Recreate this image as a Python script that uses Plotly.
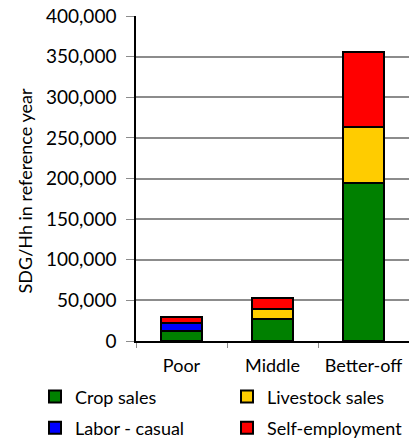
import plotly.graph_objects as go

# wealth groups and income by source (SDG per household)
groups = ["Poor", "Middle", "Better-off"]
crop_sales = [12500, 27500, 195000]
livestock_sales = [0, 12500, 68500]
labor_casual = [9500, 0, 0]
self_employment = [8000, 13500, 92500]

# name, values, colour, which legend row
series = [
    ("Crop sales", crop_sales, "#008000", "legend"),
    ("Livestock sales", livestock_sales, "#FFCC00", "legend"),
    ("Labor - casual", labor_casual, "#0000FF", "legend2"),
    ("Self-employment", self_employment, "#FF0000", "legend2"),
]

fig = go.Figure()
for name, vals, col, leg in series:
    fig.add_trace(go.Bar(
        x=groups, y=vals, name=name, legend=leg,
        marker=dict(color=col, line=dict(color="black", width=2)),
        width=0.46,
    ))

font = "Lato, 'Open Sans', sans-serif"
leg_style = dict(
    orientation="h", xanchor="left", yanchor="middle",
    entrywidth=147, traceorder="normal", font=dict(size=18),
    itemwidth=30, bgcolor="rgba(0,0,0,0)",
)
fig.update_layout(
    barmode="stack",
    width=409, height=439,
    margin=dict(l=136, r=0, t=16, b=98, autoexpand=False),
    paper_bgcolor="white", plot_bgcolor="white",
    font=dict(family=font, size=18, color="black"),
    showlegend=True,
    legend=dict(x=-0.37, y=-0.172, **leg_style),
    legend2=dict(x=-0.37, y=-0.268, **leg_style),
    xaxis=dict(
        showline=True, linecolor="black", linewidth=1.5,
        ticks="outside", tickson="boundaries", ticklen=5, tickcolor="#8c8c8c",
        tickfont=dict(size=18), tickangle=0, ticklabelstandoff=8,
    ),
    yaxis=dict(
        range=[0, 400000], dtick=50000, tickformat=",d",
        showline=True, linecolor="black", linewidth=1.5,
        showgrid=True, gridcolor="#8c8c8c", gridwidth=1.5,
        ticks="outside", ticklen=8, tickcolor="#8c8c8c",
        tickfont=dict(size=19), ticklabelstandoff=6, zeroline=False,
    ),
    annotations=[dict(
        text="SDG/Hh in reference year", textangle=-90,
        xref="paper", yref="paper", x=-0.405, y=0.4615,
        xanchor="center", yanchor="middle", showarrow=False,
        font=dict(size=18),
    )],
)

# drop the page's default body margin so the figure sits at the window corner
fig.write_html(
    "out.html",
    config={"displayModeBar": False},
    post_script="document.body.style.margin='0';",
)
